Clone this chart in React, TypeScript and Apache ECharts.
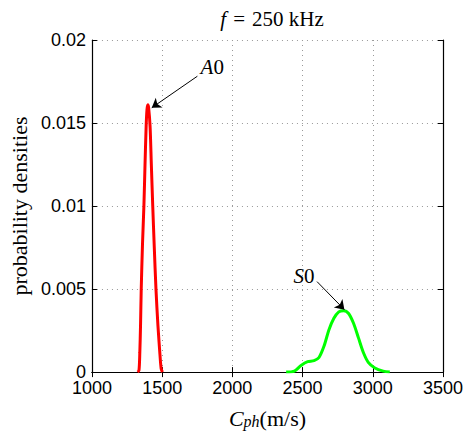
import React, { useEffect, useRef } from "react";
import * as echarts from "echarts";

const redX = [1325, 1335, 1341, 1346, 1351, 1360, 1370, 1378, 1386, 1392, 1398, 1404, 1414, 1423, 1433, 1444, 1456, 1470, 1484, 1493, 1502];
const redY = [0, 0.0001, 0.0012, 0.0028, 0.005, 0.0077, 0.01, 0.0125, 0.0148, 0.0158, 0.0161, 0.0159, 0.0148, 0.0125, 0.01, 0.0075, 0.005, 0.0028, 0.0011, 0.0002, 0];

const greenX = [2383, 2442, 2489, 2536, 2582, 2617, 2653, 2688, 2723, 2758, 2793, 2828, 2863, 2898, 2933, 2968, 3015, 3074, 3121];
const greenY = [0, 0.00006, 0.0004, 0.00063, 0.00069, 0.00088, 0.00157, 0.00255, 0.00324, 0.00363, 0.0037, 0.00353, 0.00294, 0.00206, 0.00118, 0.00059, 0.00025, 0.00006, 0];

const xTicks = [1000, 1500, 2000, 2500, 3000, 3500];
const yTicks = [0, 0.005, 0.01, 0.015, 0.02];

const arrowA0 = [[1751, 0.01782], [1426, 0.01592]];
const labelA0 = [1857, 0.01838];
const arrowS0 = [[2603, 0.00545], [2798, 0.00376]];
const labelS0 = [2510, 0.005765];

const serif = "Liberation Serif";
const sans = "Liberation Sans";

export default function App() {
  const ref = useRef<HTMLDivElement>(null);
  useEffect(() => {
    const chart = echarts.init(ref.current!, null, { renderer: "svg" });
    const pairs = (xs: number[], ys: number[]) => xs.map((x, i) => [x, ys[i]]);
    const arrowLine = (pts: number[][]) => ({
      silent: true,
      symbol: ["none", "arrow"],
      symbolSize: 9,
      label: { show: false },
      lineStyle: { color: "#000", width: 1, type: "solid" },
      itemStyle: { color: "#000" },
      data: [[{ coord: pts[0] }, { coord: pts[1] }]],
    });
    const labelPoint = (pos: number[], letter: string) => ({
      silent: true,
      symbol: "circle",
      symbolSize: 1,
      itemStyle: { color: "rgba(0,0,0,0)" },
      label: {
        show: true,
        position: "inside",
        formatter: `{i|${letter}}{n|0}`,
        rich: {
          i: { fontFamily: serif, fontStyle: "italic", fontSize: 21, color: "#000" },
          n: { fontFamily: serif, fontSize: 21, color: "#000" },
        },
      },
      data: [{ coord: pos }],
    });
    chart.setOption({
      animation: false,
      title: {
        text: "{i|f}{e|=}{t|250 kHz}",
        left: 267,
        top: 3,
        textAlign: "center",
        textStyle: {
          fontFamily: serif,
          fontSize: 21,
          fontWeight: "normal",
          color: "#000",
          rich: {
            i: { fontFamily: serif, fontStyle: "italic", fontSize: 21, color: "#000" },
            e: { fontFamily: serif, fontSize: 21, color: "#000", padding: [0, 7, 0, 7] },
            t: { fontFamily: serif, fontSize: 21, color: "#000" },
          },
        },
      },
      grid: { left: 90, top: 40, width: 356, height: 340 },
      xAxis: [
        {
          type: "value",
          min: 1000,
          max: 3500,
          interval: 500,
          axisLine: { show: true, lineStyle: { color: "#000", width: 1.2 } },
          axisTick: { show: true, inside: true, length: 5, lineStyle: { color: "#000" } },
          axisLabel: {
            fontFamily: sans,
            fontSize: 18,
            lineHeight: 14,
            color: "#000",
            margin: 9,
            formatter: (v: number) => {
              const t = xTicks.find((k) => Math.abs(k - v) < 1e-6);
              return String(t ?? v);
            },
          },
          splitLine: { show: true, lineStyle: { color: "#999", type: [1, 4], width: 1 } },
          name: "{c|C}{s|ph}{n|(m/s)}",
          nameLocation: "middle",
          nameGap: 26,
          nameTextStyle: {
            rich: {
              c: { fontFamily: serif, fontStyle: "italic", fontSize: 22, color: "#000", lineHeight: 22, verticalAlign: "top" },
              s: { fontFamily: serif, fontStyle: "italic", fontSize: 16, color: "#000", lineHeight: 16, verticalAlign: "bottom", padding: [11, 0, 0, 0] },
              n: { fontFamily: serif, fontSize: 22, color: "#000", lineHeight: 22, verticalAlign: "top" },
            },
          },
        },
        {
          type: "value",
          position: "top",
          min: 1000,
          max: 3500,
          interval: 500,
          axisLine: { show: true, lineStyle: { color: "#000", width: 1.2 } },
          axisTick: { show: true, inside: true, length: 5, lineStyle: { color: "#000" } },
          axisLabel: { show: false },
          splitLine: { show: false },
        },
      ],
      yAxis: [
        {
          type: "value",
          min: 0,
          max: 0.02,
          interval: 0.005,
          axisLine: { show: true, lineStyle: { color: "#000", width: 1.2 } },
          axisTick: { show: true, inside: true, length: 5, lineStyle: { color: "#000" } },
          axisLabel: {
            fontFamily: sans,
            fontSize: 18,
            lineHeight: 14,
            color: "#000",
            margin: 6,
            formatter: (v: number) => {
              const t = yTicks.find((k) => Math.abs(k - v) < 1e-9);
              return String(t ?? v);
            },
          },
          splitLine: { show: true, lineStyle: { color: "#999", type: [1, 4], width: 1 } },
          name: "probability densities",
          nameLocation: "middle",
          nameGap: 57,
          nameTextStyle: { fontFamily: serif, fontSize: 22, color: "#000" },
        },
        {
          type: "value",
          position: "right",
          min: 0,
          max: 0.02,
          interval: 0.005,
          axisLine: { show: true, lineStyle: { color: "#000", width: 1.2 } },
          axisTick: { show: true, inside: true, length: 5, lineStyle: { color: "#000" } },
          axisLabel: { show: false },
          splitLine: { show: false },
        },
      ],
      series: [
        {
          type: "line",
          data: pairs(redX, redY),
          smooth: 0.3,
          showSymbol: false,
          lineStyle: { color: "#ff0000", width: 3 },
          markLine: arrowLine(arrowA0),
          markPoint: labelPoint(labelA0, "A"),
        },
        {
          type: "line",
          data: pairs(greenX, greenY),
          smooth: 0.3,
          showSymbol: false,
          lineStyle: { color: "#00ff00", width: 3 },
          markLine: arrowLine(arrowS0),
          markPoint: labelPoint(labelS0, "S"),
        },
      ],
    });
    return () => chart.dispose();
  }, []);
  return <div ref={ref} style={{ position: "fixed", left: 0, top: 0, width: 466, height: 434, background: "#fff" }} />;
}
